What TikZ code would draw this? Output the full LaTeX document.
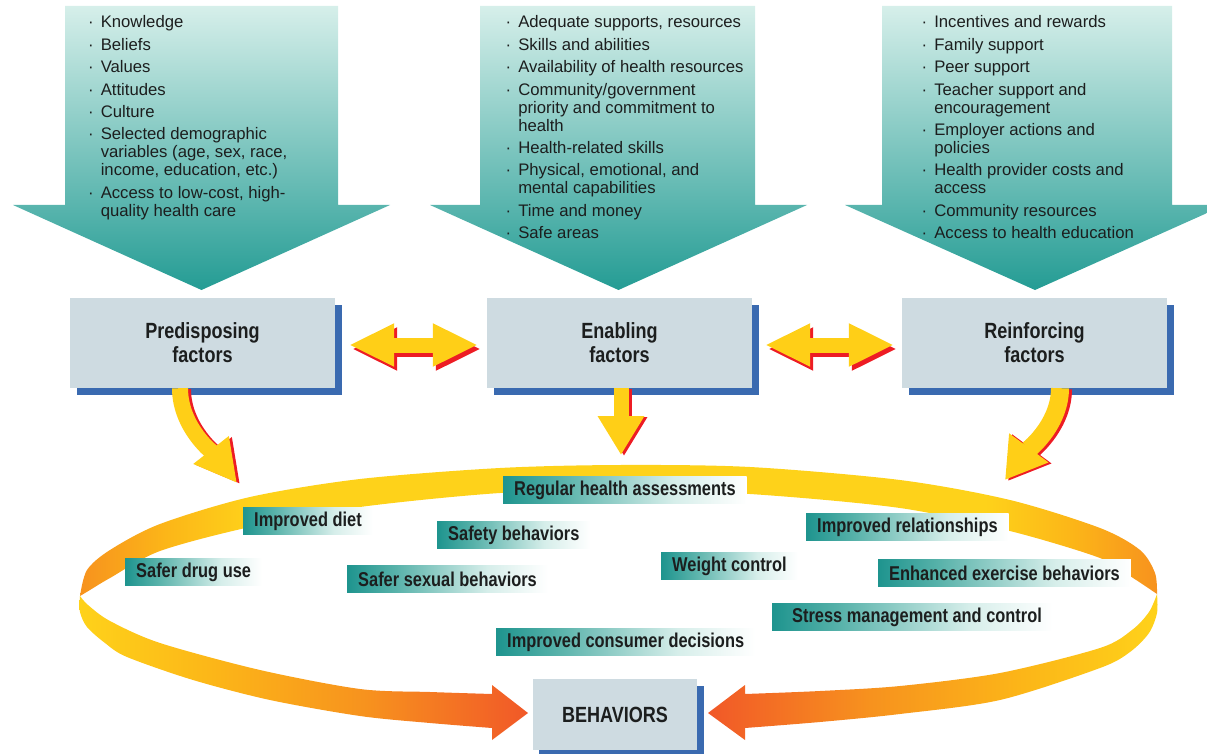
\documentclass[tikz,border=0pt]{standalone}
\usepackage{fontspec}
\setmainfont{Liberation Sans}
\newfontfamily\condfont[FakeStretch=0.82]{Liberation Sans}
\usetikzlibrary{arrows.meta,shadows}

\definecolor{tealtop}{RGB}{214,239,234}
\definecolor{tealbot}{RGB}{36,156,148}
\definecolor{boxgray}{RGB}{206,219,225}
\definecolor{shadowblue}{RGB}{58,106,176}
\definecolor{arrowyellow}{RGB}{255,207,23}
\definecolor{arrowred}{RGB}{237,28,36}
\definecolor{bandyellow}{RGB}{254,210,26}
\definecolor{bandamber}{RGB}{252,182,24}
\definecolor{bandorange}{RGB}{247,146,30}
\definecolor{bandred}{RGB}{241,88,40}
\definecolor{labelteal}{RGB}{30,148,142}
\definecolor{labelmid}{RGB}{88,178,170}
\definecolor{labellight}{RGB}{214,238,234}
\definecolor{inktext}{RGB}{28,30,30}

\newcommand{\ttlfont}{\condfont\bfseries\fontsize{22}{24}\selectfont}
\newcommand{\behfont}{\condfont\bfseries\fontsize{20}{22}\selectfont}
\newcommand{\lstfont}{\fontsize{16.7}{18}\selectfont}

% shadings: the part from 25bp to 75bp covers the path
\pgfdeclarehorizontalshading{labelfade}{100bp}{color(0bp)=(labelteal); color(25bp)=(labelteal); color(37bp)=(labelmid); color(60bp)=(labellight); color(75bp)=(white); color(100bp)=(white)}
\pgfdeclarehorizontalshading{upperband}{100bp}{color(0bp)=(bandorange); color(25bp)=(bandorange); color(29bp)=(bandamber); color(33bp)=(bandyellow); color(67bp)=(bandyellow); color(71bp)=(bandamber); color(75bp)=(bandorange); color(100bp)=(bandorange)}
\pgfdeclarehorizontalshading{lowerleft}{100bp}{color(0bp)=(bandyellow); color(25bp)=(bandyellow); color(40bp)=(bandamber); color(57bp)=(bandorange); color(75bp)=(bandred); color(100bp)=(bandred)}
\pgfdeclarehorizontalshading{lowerright}{100bp}{color(0bp)=(bandred); color(25bp)=(bandred); color(43bp)=(bandorange); color(60bp)=(bandamber); color(75bp)=(bandyellow); color(100bp)=(bandyellow)}

\begin{document}
\begin{tikzpicture}[x=1pt, y=-1pt,
factorbox/.style={fill=boxgray, minimum width=265, minimum height=90, align=center, font=\ttlfont, text=inktext,
  drop shadow={shadow xshift=7pt, shadow yshift=-7pt, fill=shadowblue, opacity=1}},
listtext/.style={font=\lstfont, text=inktext, inner sep=0, anchor=base west},
behlabel/.style={shade, shading=labelfade, font=\behfont, text=inktext, inner xsep=11, inner ysep=0, minimum height=27, anchor=west},
flowarrow/.style={line width=16pt},
]
\useasboundingbox (0,0) rectangle (1207,754);

% big teal arrows
\shade[top color=tealtop, bottom color=tealbot] (65,6) -- (338,6) -- (338,205) -- (390,205) -- (201.5,290) -- (13,205) -- (65,205) -- cycle;
\shade[top color=tealtop, bottom color=tealbot] (480,6) -- (755,6) -- (755,205) -- (807,205) -- (618.5,290) -- (430,205) -- (480,205) -- cycle;
\shade[top color=tealtop, bottom color=tealbot] (882,6) -- (1172,6) -- (1172,205) -- (1225,205) -- (1035,290) -- (845,205) -- (882,205) -- cycle;

\node[listtext] (predlist) at (88,28) {\begin{tabular}[t]{@{}l@{\hspace{7pt}}l@{}}
\textperiodcentered & Knowledge\\[4.4pt]
\textperiodcentered & Beliefs\\[4.4pt]
\textperiodcentered & Values\\[4.4pt]
\textperiodcentered & Attitudes\\[4.4pt]
\textperiodcentered & Culture\\[4.4pt]
\textperiodcentered & Selected demographic\\
 & variables (age, sex, race,\\
 & income, education, etc.)\\[4.4pt]
\textperiodcentered & Access to low-cost, high-\\
 & quality health care
\end{tabular}};
\node[listtext] (enablist) at (505.5,28) {\begin{tabular}[t]{@{}l@{\hspace{7pt}}l@{}}
\textperiodcentered & Adequate supports, resources\\[4.4pt]
\textperiodcentered & Skills and abilities\\[4.4pt]
\textperiodcentered & Availability of health resources\\[4.4pt]
\textperiodcentered & Community/government\\
 & priority and commitment to\\
 & health\\[4.4pt]
\textperiodcentered & Health-related skills\\[4.4pt]
\textperiodcentered & Physical, emotional, and\\
 & mental capabilities\\[4.4pt]
\textperiodcentered & Time and money\\[4.4pt]
\textperiodcentered & Safe areas
\end{tabular}};
\node[listtext] (reinflist) at (921.5,28) {\begin{tabular}[t]{@{}l@{\hspace{7pt}}l@{}}
\textperiodcentered & Incentives and rewards\\[4.4pt]
\textperiodcentered & Family support\\[4.4pt]
\textperiodcentered & Peer support\\[4.4pt]
\textperiodcentered & Teacher support and\\
 & encouragement\\[4.4pt]
\textperiodcentered & Employer actions and\\
 & policies\\[4.4pt]
\textperiodcentered & Health provider costs and\\
 & access\\[4.4pt]
\textperiodcentered & Community resources\\[4.4pt]
\textperiodcentered & Access to health education
\end{tabular}};

% the ribbon
\shade[shading=upperband]
  plot[smooth] coordinates {(80,596) (87,570) (110,550) (160,524) (250,497) (360,479) (500,468) (620,465)
    (750,467) (900,480) (1010,500) (1100,528) (1140,550) (1155,573) (1157,594)}
  -- plot[smooth] coordinates {(1157,594) (1133,578) (1100,558) (1010,531) (900,508) (750,494) (620,490)
    (500,493) (360,507) (250,527) (160,551) (110,578) (90,590) (80,596)} -- cycle;
\shade[shading=lowerleft]
  plot[smooth] coordinates {(80,596) (80,612) (87,627) (105,643) (127,657) (193,680) (270,700) (360,716)
    (430,723) (492,728)}
  -- (492,740) -- (528,713) -- (492,685) -- (492,694)
  -- plot[smooth] coordinates {(492,694) (430,692) (360,689) (260,670) (160,643) (110,621) (88,605) (80,596)} -- cycle;
\shade[shading=lowerright]
  plot[smooth] coordinates {(1157,594) (1157,613) (1149,633) (1130,652) (1100,668) (1000,700) (900,714)
    (820,722) (745,728)}
  -- (745,740) -- (708,713) -- (745,685) -- (745,694)
  -- plot[smooth] coordinates {(745,694) (820,691) (900,686) (1000,673) (1100,648) (1132,630) (1149,612) (1157,594)} -- cycle;

\node[factorbox] (pred) at (202.5,343) {Predisposing\\factors};
\node[factorbox] (enab) at (619.5,343) {Enabling\\factors};
\node[factorbox] (reinf) at (1034.5,343) {Reinforcing\\factors};

\coordinate (predtip) at (237,483);
\coordinate (enabtip) at (621,455);
\coordinate (reinftip) at (1005,480);

% yellow arrows with a red edge
\foreach \col/\dx/\dy in {arrowred/3/-1, arrowyellow/0/0} {
  \draw[flowarrow, draw=\col, transform canvas={xshift=\dx pt, yshift=\dy pt}, -{Triangle[length=42pt,width=42pt]}]
    ([xshift=-22.5]pred.south) .. controls +(0,40) and +(-22,-28) .. (predtip);
  \draw[flowarrow, draw=\col, transform canvas={xshift=\dx pt, yshift=\dy pt}, line width=15pt, -{Triangle[length=39pt,width=44pt]}]
    (pred.south -| enabtip) -- (enabtip);
  \draw[flowarrow, draw=\col, transform canvas={xshift=\dx pt, yshift=\dy pt}, line width=18pt, -{Triangle[length=40pt,width=46pt]}]
    ([xshift=25.5]reinf.south) .. controls +(0,38) and +(20,-27) .. (reinftip);
}
\foreach \col/\dx/\dy in {arrowred/3/-4, arrowyellow/0/0} {
  \draw[draw=\col, line width=15pt, transform canvas={xshift=\dx pt, yshift=\dy pt},
    {Triangle[length=45pt,width=40pt]}-{Triangle[length=45pt,width=40pt]}, shorten <=14pt, shorten >=9pt]
    ([yshift=-2]pred.east) -- ([yshift=-2]enab.west);
  \draw[draw=\col, line width=15pt, transform canvas={xshift=\dx pt, yshift=\dy pt},
    {Triangle[length=45pt,width=40pt]}-{Triangle[length=45pt,width=40pt]}, shorten <=13pt, shorten >=8pt]
    ([yshift=-2]enab.east) -- ([yshift=-2]reinf.west);
}

% behaviors
\node[behlabel] (health) at (503,490) {Regular health assessments};
\node[behlabel] (diet) at (243,521) {Improved diet};
\node[behlabel] (safety) at (437,535) {Safety behaviors};
\node[behlabel] (relat) at (806,527) {Improved relationships};
\node[behlabel] (drug) at (125,572) {Safer drug use};
\node[behlabel] (sexual) at (347,579) {Safer sexual behaviors};
\node[behlabel] (weight) at (661,566) {Weight control};
\node[behlabel] (exercise) at (878,573) {Enhanced exercise behaviors};
\node[behlabel] (stress) at (772,617) {\hspace{9pt}Stress management and control};
\node[behlabel] (consumer) at (496,642) {Improved consumer decisions};

\node[factorbox, minimum width=164, minimum height=71,
  drop shadow={shadow xshift=6pt, shadow yshift=-7pt, fill=shadowblue, opacity=1}] (behav) at (615,714.5) {BEHAVIORS};
\end{tikzpicture}
\end{document}
